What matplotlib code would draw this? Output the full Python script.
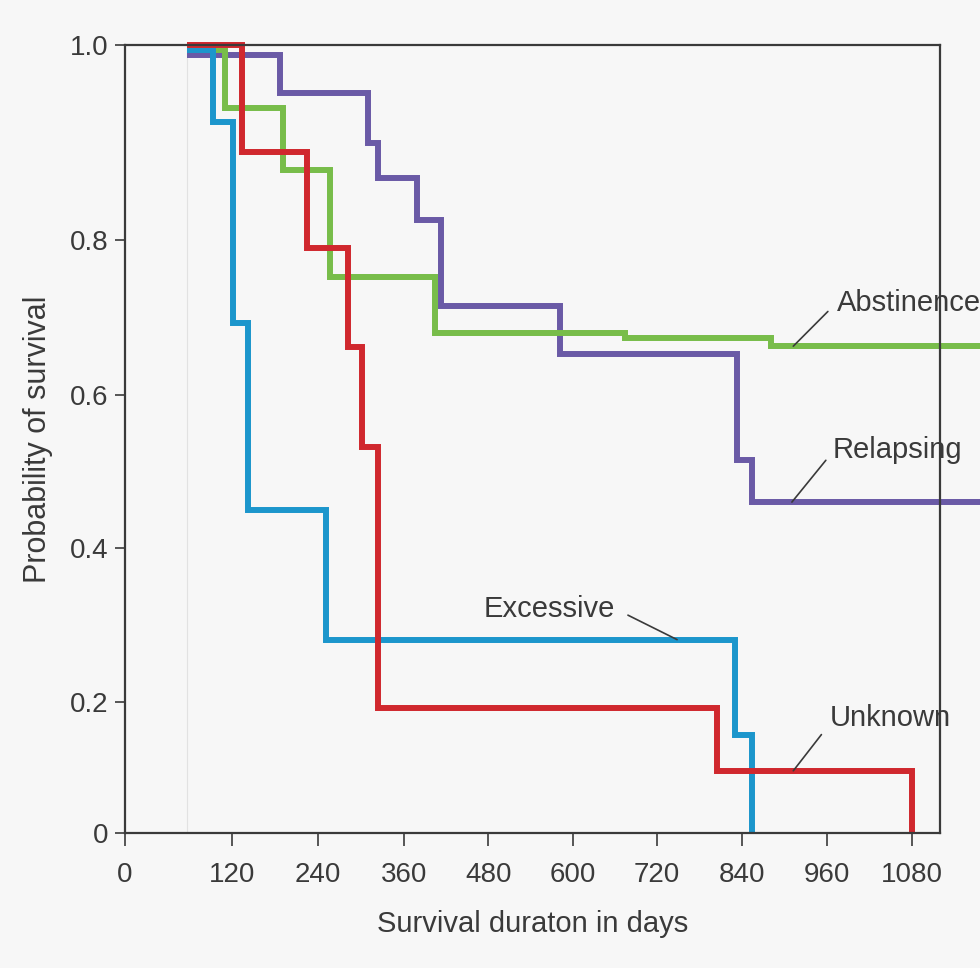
import numpy as np
import matplotlib
matplotlib.use('Agg')
import matplotlib.pyplot as plt

plt.rcParams['font.family'] = ['Liberation Sans', 'DejaVu Sans']

# survival steps: day of each step, probability after it
excessive_t = [70, 99, 121, 142, 251, 830, 854]
excessive_s = [0.995, 0.921, 0.693, 0.450, 0.281, 0.150, 0.0]

unknown_t = [70, 134, 225, 282, 301, 324, 805, 1080]
unknown_s = [1.0, 0.890, 0.790, 0.662, 0.532, 0.191, 0.095, 0.0]

abstinence_t = [70, 112, 191, 257, 404, 674, 880, 1200]
abstinence_s = [0.995, 0.935, 0.872, 0.752, 0.680, 0.674, 0.663, 0.663]

relapsing_t = [70, 187, 310, 324, 379, 413, 582, 833, 854, 1200]
relapsing_s = [0.990, 0.951, 0.900, 0.864, 0.821, 0.715, 0.653, 0.515, 0.460, 0.460]

x_ticks = [0, 120, 240, 360, 480, 600, 720, 840, 960, 1080]
y_ticks = [0, 0.2, 0.4, 0.6, 0.8, 1.0]
y_ticklabels = ['0', '0.2', '0.4', '0.6', '0.8', '1.0']

# the original axes are not evenly spaced, so map ticks onto their drawn spacing
x_anchor = [-120, 0, 120, 240, 360, 480, 600, 720, 840, 960, 1080, 1320]
x_space = [-85, 0, 107, 193, 279, 363, 448, 532, 617, 702, 787, 957]
y_anchor = [-0.2, 0, 0.2, 0.4, 0.6, 0.8, 1.0, 1.2]
y_space = [-131, 0, 131, 285, 438, 593, 788, 983]


def xf(v):
    return np.interp(v, x_anchor, x_space)


def xi(v):
    return np.interp(v, x_space, x_anchor)


def yf(v):
    return np.interp(v, y_anchor, y_space)


def yi(v):
    return np.interp(v, y_space, y_anchor)


bg = '#f7f7f7'
ink = '#3a3a3a'

fig = plt.figure(figsize=(9.8, 9.68), dpi=100, facecolor=bg)
ax = fig.add_axes([125 / 980, 135 / 968, 815 / 980, 788 / 968], facecolor=bg)
ax.set_xscale('function', functions=(xf, xi))
ax.set_yscale('function', functions=(yf, yi))

ax.axvline(70, color='#e2e2e2', lw=0.8, zorder=1)

series = [
    (relapsing_t, relapsing_s, '#6a5aa6'),
    (abstinence_t, abstinence_s, '#78bd4a'),
    (excessive_t, excessive_s, '#1c96cc'),
    (unknown_t, unknown_s, '#d0282e'),
]
for t, s, c in series:
    ax.plot(t, s, drawstyle='steps-post', color=c, lw=4.3, clip_on=False,
            solid_joinstyle='miter', solid_capstyle='butt')

ax.set_xlim(0, 1119)
ax.set_ylim(0, 1.0)
ax.set_xticks(x_ticks)
ax.set_xticklabels([str(v) for v in x_ticks])
ax.set_yticks(y_ticks)
ax.set_yticklabels(y_ticklabels)
ax.minorticks_off()

for sp in ax.spines.values():
    sp.set_color(ink)
    sp.set_linewidth(1.6)
ax.tick_params(axis='both', colors=ink, labelsize=20, width=1.2)
ax.tick_params(axis='x', length=9, pad=12)
ax.tick_params(axis='y', length=7, pad=5)

ax.set_xlabel('Survival duraton in days', fontsize=21, color=ink, labelpad=16)
ax.set_ylabel('Probability of survival', fontsize=22, color=ink, labelpad=12)

arrow = dict(arrowstyle='-', color=ink, lw=1.2, shrinkB=0)
ax.annotate('Abstinence', xy=(912, 0.663), xytext=(973, 0.719),
            fontsize=21, color=ink, va='center', ha='left',
            annotation_clip=False,
            arrowprops=dict(arrow, relpos=(0, 0.5), shrinkA=6))
ax.annotate('Relapsing', xy=(910, 0.460), xytext=(968, 0.528),
            fontsize=21, color=ink, va='center', ha='left',
            annotation_clip=False,
            arrowprops=dict(arrow, relpos=(0, 0.45), shrinkA=5))
ax.annotate('Excessive', xy=(748, 0.281), xytext=(660, 0.321),
            fontsize=21, color=ink, va='center', ha='right',
            annotation_clip=False,
            arrowprops=dict(arrow, relpos=(1, 0.5), shrinkA=8))
ax.annotate('Unknown', xy=(912, 0.095), xytext=(964, 0.176),
            fontsize=21, color=ink, va='center', ha='left',
            annotation_clip=False,
            arrowprops=dict(arrow, relpos=(0, 0.3), shrinkA=7))

fig.savefig('out.png', dpi=100, facecolor=bg)
